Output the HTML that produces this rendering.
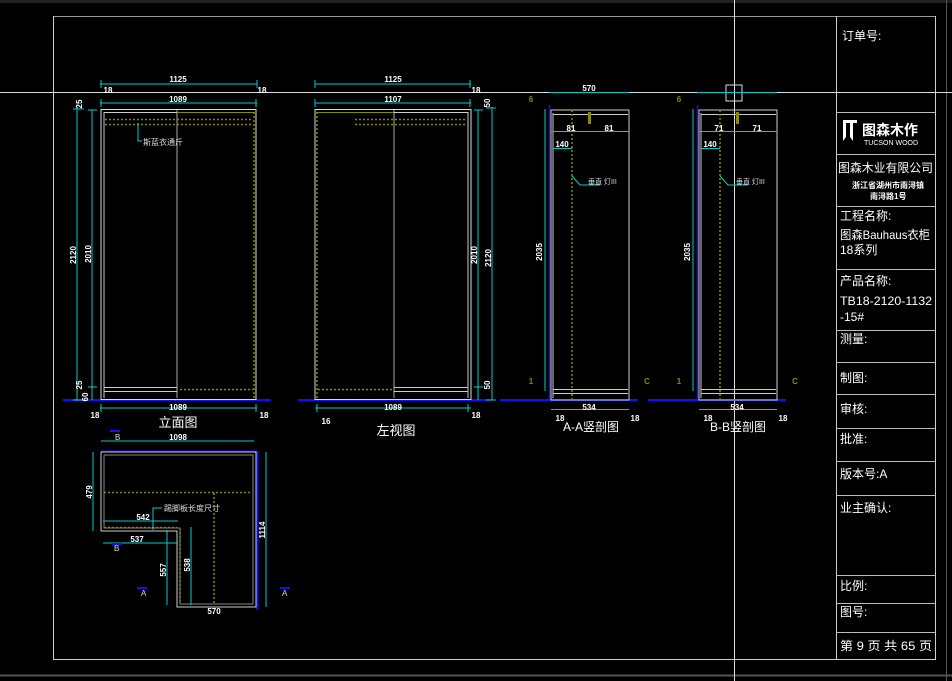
<!DOCTYPE html>
<html><head><meta charset="utf-8"><style>
html,body{margin:0;padding:0;background:#000;}
svg{display:block}
text{font-family:"Liberation Sans","Noto Sans CJK SC",sans-serif;}
</style></head><body>
<svg width="952" height="681" viewBox="0 0 952 681" xmlns="http://www.w3.org/2000/svg">
<rect width="952" height="681" fill="#000"/>
<rect x="0" y="0" width="952" height="3" fill="#222"/>
<line x1="53" y1="16.5" x2="935" y2="16.5" stroke="#9a9a9a"/>
<line x1="53.5" y1="16" x2="53.5" y2="660" stroke="#ccc"/>
<line x1="53" y1="659.5" x2="936" y2="659.5" stroke="#ccc"/>
<line x1="935.5" y1="16" x2="935.5" y2="660" stroke="#ccc"/>
<line x1="836.5" y1="16" x2="836.5" y2="660" stroke="#ccc"/>
<line x1="0" y1="675.5" x2="952" y2="675.5" stroke="#555" stroke-width="2"/>
<line x1="946.5" y1="0" x2="946.5" y2="681" stroke="#555"/>
<line x1="0" y1="92.5" x2="952" y2="92.5" stroke="#ddd"/>
<line x1="734.5" y1="0" x2="734.5" y2="681" stroke="#ddd"/>
<rect x="726" y="85" width="16" height="16" fill="none" stroke="#ddd"/>
<g stroke="#bbb">
<line x1="836" y1="112.5" x2="935" y2="112.5"/>
<line x1="836" y1="154.5" x2="935" y2="154.5"/>
<line x1="836" y1="206.5" x2="935" y2="206.5"/>
<line x1="836" y1="269.5" x2="935" y2="269.5"/>
<line x1="836" y1="330.5" x2="935" y2="330.5"/>
<line x1="836" y1="362.5" x2="935" y2="362.5"/>
<line x1="836" y1="394.5" x2="935" y2="394.5"/>
<line x1="836" y1="428.5" x2="935" y2="428.5"/>
<line x1="836" y1="461.5" x2="935" y2="461.5"/>
<line x1="836" y1="495.5" x2="935" y2="495.5"/>
<line x1="836" y1="575.5" x2="935" y2="575.5"/>
<line x1="836" y1="603.5" x2="935" y2="603.5"/>
<line x1="836" y1="632.5" x2="935" y2="632.5"/>
</g>
<g fill="#fff" font-size="12">
<text x="842" y="40">订单号:</text>
<text x="840" y="220">工程名称:</text>
<text x="840" y="239" textLength="90" lengthAdjust="spacingAndGlyphs">图森Bauhaus衣柜</text>
<text x="840" y="254">18系列</text>
<text x="840" y="285">产品名称:</text>
<text x="840" y="305" textLength="92" lengthAdjust="spacingAndGlyphs">TB18-2120-1132</text>
<text x="840" y="321">-15#</text>
<text x="840" y="343">测量:</text>
<text x="840" y="382">制图:</text>
<text x="840" y="413">审核:</text>
<text x="840" y="443">批准:</text>
<text x="840" y="478">版本号:A</text>
<text x="840" y="512">业主确认:</text>
<text x="840" y="590">比例:</text>
<text x="840" y="616">图号:</text>
<text x="840" y="650" textLength="92" lengthAdjust="spacingAndGlyphs">第 9 页 共 65 页</text>
<text x="838" y="172" font-size="12" textLength="95" lengthAdjust="spacingAndGlyphs">图森木业有限公司</text>
<text x="852" y="188" font-size="8" font-weight="bold">浙江省湖州市南浔镇</text>
<text x="870" y="199" font-size="8" font-weight="bold">南浔路1号</text>
</g>
<path d="M843 120h14v3h-4v18l-3-4v-14h-4v14l-3 4v-18h0z" fill="#fff"/>
<text x="862" y="135" fill="#fff" font-size="14" font-weight="bold">图森木作</text>
<text x="864" y="145" fill="#fff" font-size="7">TUCSON WOOD</text>

<g fill="none">
<line x1="63" y1="400" x2="271" y2="400" stroke="#1010ff" stroke-width="2"/>
<rect x="101" y="109.5" width="155" height="290" stroke="#ddd"/>
<line x1="104" y1="112" x2="104" y2="398" stroke="#ccc"/>
<line x1="177" y1="110" x2="177" y2="398" stroke="#aaa"/>
<line x1="104" y1="112.5" x2="254" y2="112.5" stroke="#ccc"/>
<line x1="104" y1="387.5" x2="177" y2="387.5" stroke="#ccc"/>
<line x1="104" y1="391.5" x2="177" y2="391.5" stroke="#ccc"/>
<line x1="177" y1="112.5" x2="253" y2="112.5" stroke="#8a8a00"/>
<line x1="254" y1="112" x2="254" y2="398" stroke="#8a8a00" stroke-dasharray="2 2" stroke-width="1.5"/>
<line x1="105" y1="119.5" x2="253" y2="119.5" stroke="#8a8a00" stroke-dasharray="2 2" stroke-width="1.5"/>
<line x1="105" y1="124.5" x2="253" y2="124.5" stroke="#8a8a00" stroke-dasharray="2 2" stroke-width="1.5"/>
<line x1="180" y1="389.5" x2="253" y2="389.5" stroke="#8a8a00" stroke-dasharray="2 2" stroke-width="1.5"/>
<polyline points="138,123 138,141 142,141" stroke="#0cc"/>
</g>
<text x="143" y="145" fill="#ddd" font-size="8">斯蓝衣通斤</text>
<g stroke="#0cc" fill="none">
<line x1="100" y1="84" x2="257" y2="84"/><line x1="101" y1="80" x2="101" y2="88"/><line x1="257" y1="80" x2="257" y2="88"/>
<line x1="100" y1="103" x2="257" y2="103"/><line x1="101" y1="99" x2="101" y2="107"/><line x1="256" y1="99" x2="256" y2="107"/>
<line x1="77" y1="108" x2="77" y2="400"/><line x1="73" y1="109" x2="84" y2="109"/><line x1="73" y1="400" x2="84" y2="400"/>
<line x1="92" y1="110" x2="92" y2="400"/><line x1="88" y1="110" x2="97" y2="110"/><line x1="88" y1="387" x2="97" y2="387"/>
<line x1="100" y1="408" x2="257" y2="408"/><line x1="101" y1="404" x2="101" y2="412"/><line x1="256" y1="404" x2="256" y2="412"/>
</g>
<g fill="#fff" font-size="8" font-weight="bold" text-anchor="middle">
<text x="178" y="82">1125</text><text x="178" y="102">1089</text><text x="178" y="410">1089</text>
<text x="108" y="93">18</text><text x="262" y="93">18</text>
<text x="95" y="418">18</text><text x="264" y="418">18</text>
<text x="0" y="0" transform="translate(76,255) rotate(-90)">2120</text>
<text x="0" y="0" transform="translate(91,254) rotate(-90)">2010</text>
<text x="0" y="0" transform="translate(82,104) rotate(-90)">25</text>
<text x="0" y="0" transform="translate(82,385) rotate(-90)">25</text>
<text x="0" y="0" transform="translate(88,397) rotate(-90)">60</text>
</g>
<text x="178" y="427" fill="#fff" font-size="13" text-anchor="middle">立面图</text>

<g fill="none">
<line x1="298" y1="400" x2="490" y2="400" stroke="#1010ff" stroke-width="2"/>
<rect x="315" y="109.5" width="156" height="290" stroke="#ddd"/>
<line x1="468" y1="112" x2="468" y2="398" stroke="#ccc"/>
<line x1="394" y1="110" x2="394" y2="398" stroke="#aaa"/>
<line x1="394" y1="112.5" x2="468" y2="112.5" stroke="#ccc"/>
<line x1="394" y1="387.5" x2="468" y2="387.5" stroke="#ccc"/>
<line x1="394" y1="391.5" x2="468" y2="391.5" stroke="#ccc"/>
<line x1="316" y1="112.5" x2="394" y2="112.5" stroke="#8a8a00"/>
<line x1="317" y1="112" x2="317" y2="398" stroke="#8a8a00" stroke-dasharray="2 2" stroke-width="1.5"/>
<line x1="355" y1="119.5" x2="465" y2="119.5" stroke="#8a8a00" stroke-dasharray="2 2" stroke-width="1.5"/>
<line x1="355" y1="124.5" x2="465" y2="124.5" stroke="#8a8a00" stroke-dasharray="2 2" stroke-width="1.5"/>
<line x1="318" y1="389.5" x2="392" y2="389.5" stroke="#8a8a00" stroke-dasharray="2 2" stroke-width="1.5"/>
</g>
<g stroke="#0cc" fill="none">
<line x1="315" y1="84" x2="471" y2="84"/><line x1="315" y1="80" x2="315" y2="88"/><line x1="470" y1="80" x2="470" y2="88"/>
<line x1="315" y1="103" x2="471" y2="103"/><line x1="315" y1="99" x2="315" y2="107"/><line x1="470" y1="99" x2="470" y2="107"/>
<line x1="478" y1="110" x2="478" y2="400"/><line x1="474" y1="110" x2="483" y2="110"/><line x1="474" y1="387" x2="483" y2="387"/>
<line x1="492" y1="107" x2="492" y2="400"/><line x1="486" y1="108" x2="496" y2="108"/><line x1="486" y1="400" x2="496" y2="400"/>
<line x1="315" y1="408" x2="471" y2="408"/><line x1="317" y1="404" x2="317" y2="412"/><line x1="468" y1="404" x2="468" y2="412"/>
</g>
<g fill="#fff" font-size="8" font-weight="bold" text-anchor="middle">
<text x="393" y="82">1125</text><text x="393" y="102">1107</text><text x="393" y="410">1089</text>
<text x="476" y="93">18</text><text x="326" y="424">16</text><text x="476" y="418">18</text>
<text x="0" y="0" transform="translate(477,255) rotate(-90)">2010</text>
<text x="0" y="0" transform="translate(491,258) rotate(-90)">2120</text>
<text x="0" y="0" transform="translate(490,103) rotate(-90)">50</text>
<text x="0" y="0" transform="translate(490,385) rotate(-90)">50</text>
</g>
<text x="396" y="435" fill="#fff" font-size="13" text-anchor="middle">左视图</text>

<g id="sec" fill="none">
<line x1="500" y1="400" x2="638" y2="400" stroke="#1010ff" stroke-width="2"/>
<line x1="549.5" y1="105" x2="549.5" y2="400" stroke="#1010ff" stroke-width="1.5"/>
<rect x="551" y="110" width="78" height="290" stroke="#ccc"/>
<line x1="553" y1="113" x2="553" y2="398" stroke="#ccc"/>
<line x1="553" y1="114.5" x2="628" y2="114.5" stroke="#ccc"/>
<line x1="553" y1="389.5" x2="628" y2="389.5" stroke="#ccc"/>
<line x1="553" y1="393.5" x2="628" y2="393.5" stroke="#ccc"/>
<line x1="572" y1="110" x2="572" y2="400" stroke="#8a8a00" stroke-dasharray="2 2" stroke-width="1.5"/>
<rect x="588" y="112" width="3" height="12" fill="#8a8a00"/>
<line x1="551" y1="131.5" x2="629" y2="131.5" stroke="#0cc"/>
<line x1="553" y1="148.5" x2="572" y2="148.5" stroke="#0cc"/>
<line x1="545" y1="109" x2="545" y2="391" stroke="#0cc"/>
<line x1="551" y1="409.5" x2="629" y2="409.5" stroke="#0cc"/>
<line x1="549" y1="92.5" x2="629" y2="92.5" stroke="#0cc"/>
<polyline points="572,176 580,185 600,185" stroke="#0cc"/>
</g>
<g fill="#fff" font-size="8" font-weight="bold" text-anchor="middle">
<text x="589" y="91">570</text><text x="571" y="131">81</text><text x="609" y="131">81</text>
<text x="562" y="147">140</text><text x="589" y="410">534</text>
<text x="560" y="421">18</text><text x="635" y="421">18</text>
<text x="0" y="0" transform="translate(542,252) rotate(-90)">2035</text>
<text x="531" y="102" fill="#8a8a00">6</text><text x="531" y="384" fill="#8a8a00">1</text><text x="647" y="384" fill="#8a8a00">C</text>
</g>
<text x="588" y="184" fill="#ddd" font-size="7">垂直 灯III</text>
<text x="591" y="431" fill="#fff" font-size="12" text-anchor="middle">A-A竖剖图</text>

<use href="#sec" x="148"/>
<g fill="#fff" font-size="8" font-weight="bold" text-anchor="middle">
<text x="719" y="131">71</text><text x="757" y="131">71</text>
<text x="710" y="147">140</text><text x="737" y="410">534</text>
<text x="708" y="421">18</text><text x="783" y="421">18</text>
<text x="0" y="0" transform="translate(690,252) rotate(-90)">2035</text>
<text x="679" y="102" fill="#8a8a00">6</text><text x="679" y="384" fill="#8a8a00">1</text><text x="795" y="384" fill="#8a8a00">C</text>
</g>
<text x="736" y="184" fill="#ddd" font-size="7">垂直 灯III</text>
<text x="738" y="431" fill="#fff" font-size="12" text-anchor="middle">B-B竖剖图</text>

<g fill="none">
<line x1="101" y1="451.5" x2="257" y2="451.5" stroke="#1010ff" stroke-width="2"/>
<line x1="257.5" y1="451" x2="257.5" y2="610" stroke="#1010ff" stroke-width="2"/>
<polyline points="101,452 256,452 256,607 177,607 177,531 101,531 101,452" stroke="#ccc"/>
<polyline points="104,455 253,455 253,604 180,604 180,528 104,528 104,455" stroke="#888"/>
<line x1="104" y1="492.5" x2="252" y2="492.5" stroke="#8a8a00" stroke-dasharray="2 2" stroke-width="1.5"/>
<line x1="214" y1="493" x2="214" y2="604" stroke="#8a8a00" stroke-dasharray="2 2" stroke-width="1.5"/>
<line x1="180" y1="528" x2="180" y2="604" stroke="#8a8a00" stroke-dasharray="2 2" stroke-width="1.5"/>
<line x1="104" y1="527.5" x2="177" y2="527.5" stroke="#8a8a00" stroke-dasharray="2 2" stroke-width="1.5"/>
<g stroke="#0cc">
<line x1="101" y1="441" x2="254" y2="441"/>
<line x1="93" y1="452" x2="93" y2="531"/>
<line x1="266" y1="452" x2="266" y2="607"/>
<line x1="103" y1="521" x2="178" y2="521"/>
<line x1="103" y1="543" x2="178" y2="543"/>
<line x1="167" y1="530" x2="167" y2="605"/>
<line x1="191" y1="527" x2="191" y2="605"/>
<polyline points="153,530 153,508 162,508"/>
</g>
<g stroke="#1010ff" stroke-width="2">
<line x1="110" y1="431" x2="120" y2="431"/><line x1="112" y1="544" x2="122" y2="544"/>
<line x1="137" y1="588" x2="147" y2="588"/><line x1="280" y1="588" x2="290" y2="588"/>
</g>
</g>
<g fill="#fff" font-size="8" font-weight="bold" text-anchor="middle">
<text x="178" y="440">1098</text><text x="143" y="520">542</text><text x="137" y="542">537</text>
<text x="214" y="614">570</text>
<text x="0" y="0" transform="translate(92,492) rotate(-90)">479</text>
<text x="0" y="0" transform="translate(265,530) rotate(-90)">1114</text>
<text x="0" y="0" transform="translate(166,570) rotate(-90)">557</text>
<text x="0" y="0" transform="translate(190,565) rotate(-90)">538</text>
</g>
<g fill="#ddd" font-size="8">
<text x="115" y="440">B</text><text x="114" y="551">B</text><text x="141" y="596">A</text><text x="282" y="596">A</text>
</g>
<text x="164" y="511" fill="#ddd" font-size="8">踢脚板长度尺寸</text>
</svg>
</body></html>
